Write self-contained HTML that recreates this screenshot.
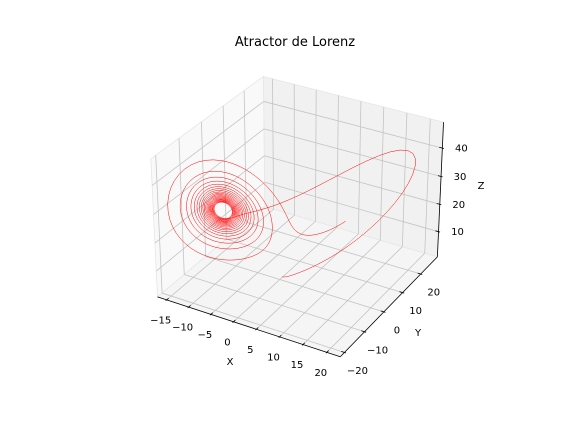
<!DOCTYPE html>
<html><head><meta charset="utf-8"><title>Atractor de Lorenz</title>
<style>
html,body{margin:0;padding:0;background:#fff;}
svg{display:block;font-family:"DejaVu Sans","Liberation Sans",sans-serif;}
</style></head>
<body>
<svg id="chart" width="576" height="432" viewBox="0 0 576 432" xmlns="http://www.w3.org/2000/svg">
<rect x="0" y="0" width="576" height="432" fill="#ffffff"/>
<text x="295" y="46" font-size="13" text-anchor="middle" fill="#000">Atractor de Lorenz</text>
<g id="panes"></g>
<g id="grid"></g>
<g id="axes"></g>
<g id="labels"></g>
<g id="series"></g>
<text x="230" y="365" font-size="10" text-anchor="middle">X</text>
<text x="418" y="336" font-size="10" text-anchor="middle">Y</text>
<text x="481" y="189" font-size="10" text-anchor="middle">Z</text>
</svg>
<script>
const xTicks=[-15,-10,-5,0,5,10,15,20];
const yTicks=[-20,-10,0,10,20];
const zTicks=[10,20,30,40];
const xLim=[-16.3,22.0];
const yLim=[-21.0,28.5];
const zLim=[1.6,48.0];
const lorenzParams=[10,28,8/3];
const initialState=[0,1,1.05];
const stepCount=[4500];
const timeStep=[0.01];
const xs=[],ys=[],zs=[];

(function(){
  const s=lorenzParams[0],r=lorenzParams[1],b=lorenzParams[2],dt=timeStep[0];
  const f=(p)=>[s*(p[1]-p[0]),r*p[0]-p[1]-p[0]*p[2],p[0]*p[1]-b*p[2]];
  let p=initialState.slice();
  xs.push(p[0]);ys.push(p[1]);zs.push(p[2]);
  for(let i=0;i<stepCount[0];i++){
    const k1=f(p);
    const k2=f(p.map((v,j)=>v+k1[j]*dt/2));
    const k3=f(p.map((v,j)=>v+k2[j]*dt/2));
    const k4=f(p.map((v,j)=>v+k3[j]*dt));
    p=p.map((v,j)=>v+dt/6*(k1[j]+2*k2[j]+2*k3[j]+k4[j]));
    xs.push(p[0]);ys.push(p[1]);zs.push(p[2]);
  }
})();

let cross=xs.findIndex(v=>v<-5); if(cross<0) cross=xs.length-1;
let mins=[];
for(let i=cross-1;i>1&&mins.length<2;i--){ if(zs[i]<zs[i-1]&&zs[i]<=zs[i+1]) mins.push(i); }
const drawStart=mins.length===2?mins[1]:0;
let drawEnd=xs.length-1;
for(let i=cross;i<xs.length;i++){ if(xs[i]>8){drawEnd=i;break;} }

const NS="http://www.w3.org/2000/svg";
const nrm=Math.hypot(4,4,3);
const BA=[4*1.8294640721620434/nrm,4*1.8294640721620434/nrm,3*1.8294640721620434/nrm];
const el=30*Math.PI/180, az=-60*Math.PI/180, dist=10;
const R=[BA[0]/2,BA[1]/2,BA[2]/2];
const dir=[Math.cos(el)*Math.cos(az),Math.cos(el)*Math.sin(az),Math.sin(el)];
const E=[R[0]+dist*dir[0],R[1]+dist*dir[1],R[2]+dist*dir[2]];
const Nv=dir;
function cross3(a,b){return [a[1]*b[2]-a[2]*b[1],a[2]*b[0]-a[0]*b[2],a[0]*b[1]-a[1]*b[0]];}
function unit(a){const l=Math.hypot(a[0],a[1],a[2]);return [a[0]/l,a[1]/l,a[2]/l];}
const Uv=unit(cross3([0,0,1],Nv));
const Vv=cross3(Nv,Uv);
function raw(x,y,z){
  const X=(x-xLim[0])/(xLim[1]-xLim[0])*BA[0];
  const Y=(y-yLim[0])/(yLim[1]-yLim[0])*BA[1];
  const Z=(z-zLim[0])/(zLim[1]-zLim[0])*BA[2];
  const d=[X-E[0],Y-E[1],Z-E[2]];
  const u=Uv[0]*d[0]+Uv[1]*d[1];
  const v=Vv[0]*d[0]+Vv[1]*d[1]+Vv[2]*d[2];
  const n=Nv[0]*d[0]+Nv[1]*d[1]+Nv[2]*d[2];
  return [u/(-n),v/(-n)];
}
const px=(xLim[1]-xLim[0])/48, py=(yLim[1]-yLim[0])/48, pz=(zLim[1]-zLim[0])/48;
const xlo=xLim[0]-px,xhi=xLim[1]+px,ylo=yLim[0]-py,yhi=yLim[1]+py,zlo=zLim[0]-pz,zhi=zLim[1]+pz;
const cornerRefs=[[[xlo,yhi,zhi],[263,77]],[[xhi,ylo,zlo],[342,357]],[[xlo,ylo,zhi],[152,157]],[[xhi,yhi,zhi],[443,123]],[[xlo,ylo,zlo],[156,297]],[[xhi,yhi,zlo],[437,257]]];
function fit(idx){
  let n=0,sa=0,sb=0,saa=0,sab=0;
  cornerRefs.forEach(c=>{const a=raw(...c[0])[idx],b=c[1][idx];n++;sa+=a;sb+=b;saa+=a*a;sab+=a*b;});
  const k=(n*sab-sa*sb)/(n*saa-sa*sa);return [k,(sb-k*sa)/n];
}
const FX=fit(0),FY=fit(1);
function P(x,y,z){const r=raw(x,y,z);return [FX[1]+FX[0]*r[0],FY[1]+FY[0]*r[1]];}

function poly(g,pts,fill,name){
  const e=document.createElementNS(NS,'polygon');
  e.setAttribute('points',pts.map(p=>P(...p).join(',')).join(' '));
  e.setAttribute('fill',fill);e.setAttribute('stroke','#e6e6e6');e.setAttribute('stroke-width','0.8');
  
  
  g.appendChild(e);
}
function line(g,a,b,col,w,name){
  const p=P(...a),q=P(...b);
  const e=document.createElementNS(NS,'line');
  e.setAttribute('x1',p[0]);e.setAttribute('y1',p[1]);e.setAttribute('x2',q[0]);e.setAttribute('y2',q[1]);
  e.setAttribute('stroke',col);e.setAttribute('stroke-width',w);
  
  
  g.appendChild(e);
}
function label(g,xy,txt,name){
  const e=document.createElementNS(NS,'text');
  e.setAttribute('x',xy[0]);e.setAttribute('y',xy[1]+3.5);
  e.setAttribute('font-size','10');e.setAttribute('text-anchor','middle');
  e.textContent=txt;
  
  
  g.appendChild(e);
}
const gP=document.getElementById('panes'),gG=document.getElementById('grid'),gA=document.getElementById('axes'),gL=document.getElementById('labels'),gS=document.getElementById('series');
poly(gP,[[xlo,ylo,zlo],[xlo,yhi,zlo],[xlo,yhi,zhi],[xlo,ylo,zhi]],'#f9f9f9','x-pane');
poly(gP,[[xlo,yhi,zlo],[xhi,yhi,zlo],[xhi,yhi,zhi],[xlo,yhi,zhi]],'#f1f1f1','y-pane');
poly(gP,[[xlo,ylo,zlo],[xhi,ylo,zlo],[xhi,yhi,zlo],[xlo,yhi,zlo]],'#f5f5f5','z-pane');
const GC='#c4c4c4',GW='0.8';
xTicks.forEach(t=>{line(gG,[t,ylo,zlo],[t,yhi,zlo],GC,GW,'x-gridline');line(gG,[t,yhi,zlo],[t,yhi,zhi],GC,GW,'x-gridline');});
yTicks.forEach(t=>{line(gG,[xlo,t,zlo],[xhi,t,zlo],GC,GW,'y-gridline');line(gG,[xlo,t,zlo],[xlo,t,zhi],GC,GW,'y-gridline');});
zTicks.forEach(t=>{line(gG,[xlo,ylo,t],[xlo,yhi,t],GC,GW,'z-gridline');line(gG,[xlo,yhi,t],[xhi,yhi,t],GC,GW,'z-gridline');});
line(gA,[xlo,ylo,zlo],[xhi,ylo,zlo],'#000','0.8','x-axis-line');
line(gA,[xhi,ylo,zlo],[xhi,yhi,zlo],'#000','0.8','y-axis-line');
line(gA,[xhi,yhi,zlo],[xhi,yhi,zhi],'#000','0.8','z-axis-line');
const dY=(yhi-ylo)/12,dX=(xhi-xlo)/12;
const fmt=v=>String(v).replace('-','\u2212');
xTicks.forEach(t=>{line(gA,[t,ylo-0.1*dY,zlo],[t,ylo+0.2*dY,zlo],'#000','0.8','x-tick');const b=P(t,ylo,zlo);label(gL,[b[0]-6,b[1]+20],fmt(t),'x-tick-label');});
yTicks.forEach(t=>{line(gA,[xhi+0.1*dX,t,zlo],[xhi-0.2*dX,t,zlo],'#000','0.8','y-tick');const b=P(xhi,t,zlo);label(gL,[b[0]+13,b[1]+18],fmt(t),'y-tick-label');});
zTicks.forEach(t=>{line(gA,[xhi+0.1*dX,yhi,t],[xhi-0.2*dX,yhi,t],'#000','0.8','z-tick');const b=P(xhi,yhi,t);label(gL,[b[0]+19,b[1]],fmt(t),'z-tick-label');});
let d='';
for(let i=drawStart;i<=drawEnd;i++){const p=P(xs[i],ys[i],zs[i]);d+=(i>drawStart?'L':'M')+p[0].toFixed(2)+','+p[1].toFixed(2);}
const path=document.createElementNS(NS,'path');
path.setAttribute('d',d);path.setAttribute('fill','none');path.setAttribute('stroke','#ff0000');path.setAttribute('stroke-width','0.5');path.setAttribute('stroke-linejoin','round');


gS.appendChild(path);
</script>
</body></html>
